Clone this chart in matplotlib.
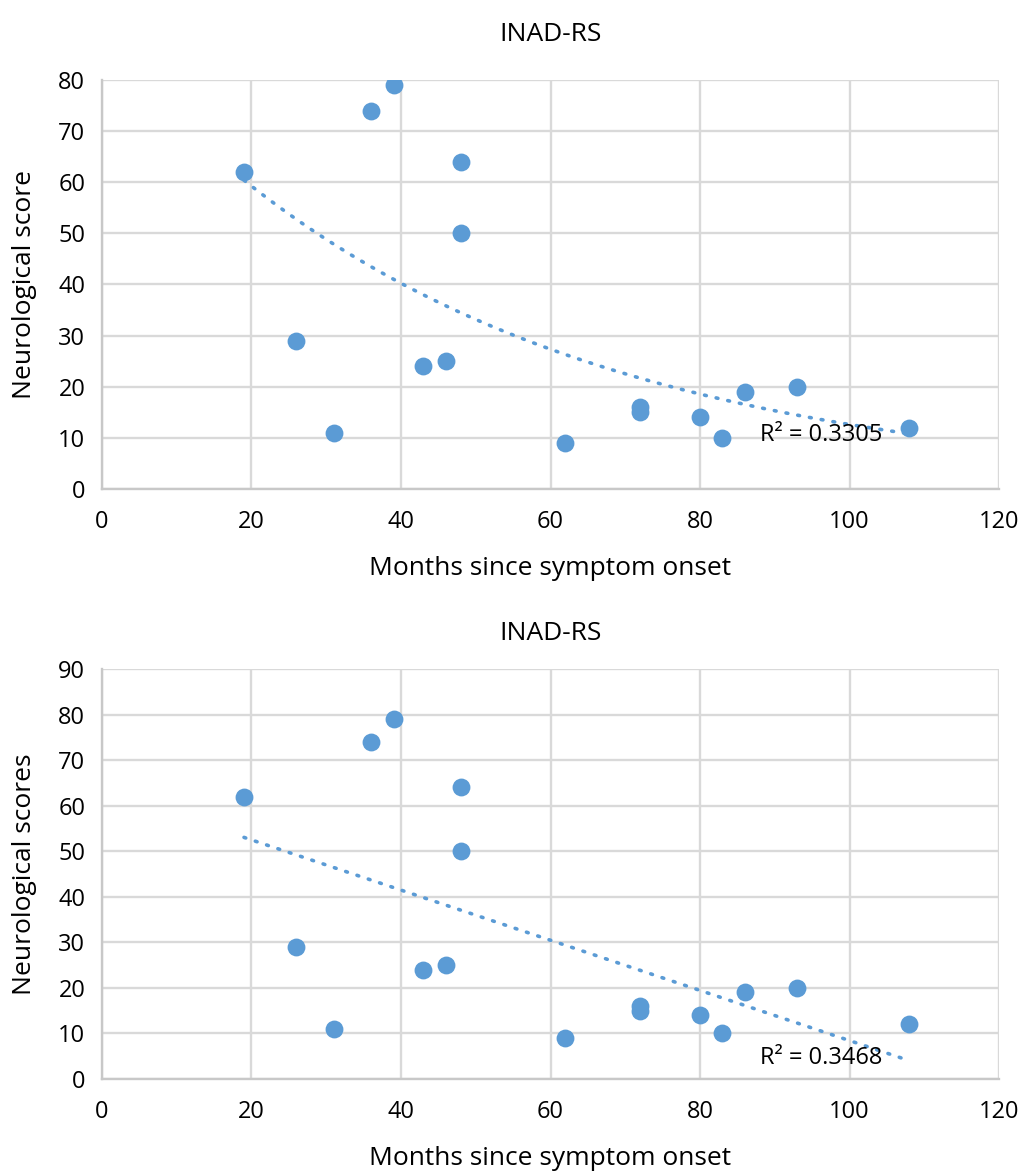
import matplotlib.pyplot as plt
import numpy as np

plt.rcParams['font.family'] = ['Open Sans', 'DejaVu Sans']

# data
months = [19, 26, 31, 36, 39, 43, 46, 48, 48, 62, 72, 72, 80, 83, 86, 93, 108]
scores = [62, 29, 11, 74, 79, 24, 25, 64, 50, 9, 16, 15, 14, 10, 19, 20, 12]
# exponential trend y = a*exp(b*x) as drawn in the top chart
exp_a = 87.2
exp_b = -0.01934
r2_top = "R\u00b2 = 0.3305"
r2_bottom = "R\u00b2 = 0.3468"
title = "INAD-RS"
xlabel = "Months since symptom onset"

blue = '#5B9BD5'
grid = '#D9D9D9'

x = np.array(months, dtype=float)
y = np.array(scores, dtype=float)
xs = np.linspace(x.min(), x.max(), 200)

exp_fit = exp_a * np.exp(exp_b * xs)
m, c = np.polyfit(x, y, 1)
lin_fit = m * xs + c

fig = plt.figure(figsize=(10.3, 11.72), dpi=100)
ax1 = fig.add_axes([0.099, 0.5828, 0.871, 0.349])
ax2 = fig.add_axes([0.099, 0.0794, 0.871, 0.3498])


def style(ax, ymax, ylabel, fit, r2, ty, tpad):
    ax.plot(xs, fit, linestyle=(0, (0.5, 2.8)), color=blue, lw=2.6,
            dash_capstyle='round', zorder=2)
    ax.scatter(x, y, s=165, color=blue, zorder=3, linewidths=0)
    ax.set_xlim(0, 120)
    ax.set_ylim(0, ymax)
    ax.set_xticks(range(0, 121, 20))
    ax.set_yticks(range(0, ymax + 1, 10))
    ax.grid(True, color=grid, lw=1.7)
    ax.set_axisbelow(True)
    for s in ['top', 'right']:
        ax.spines[s].set_visible(False)
    for s in ['left', 'bottom']:
        ax.spines[s].set_color('#C8C8C8')
        ax.spines[s].set_linewidth(1.7)
    ax.tick_params(length=0, labelsize=17, colors='#000000')
    ax.tick_params(axis='x', pad=15)
    ax.tick_params(axis='y', pad=12)
    ax.set_title(title, fontsize=19, pad=tpad)
    ax.set_xlabel(xlabel, fontsize=19, labelpad=16)
    ax.set_ylabel(ylabel, fontsize=19, labelpad=15)
    ax.text(88, ty, r2, fontsize=17, va='center', ha='left')


style(ax1, 80, "Neurological score", exp_fit, r2_top, 10.6, 28)
style(ax2, 90, "Neurological scores", lin_fit, r2_bottom, 4.6, 21)

fig.savefig('out.png', dpi=100)
